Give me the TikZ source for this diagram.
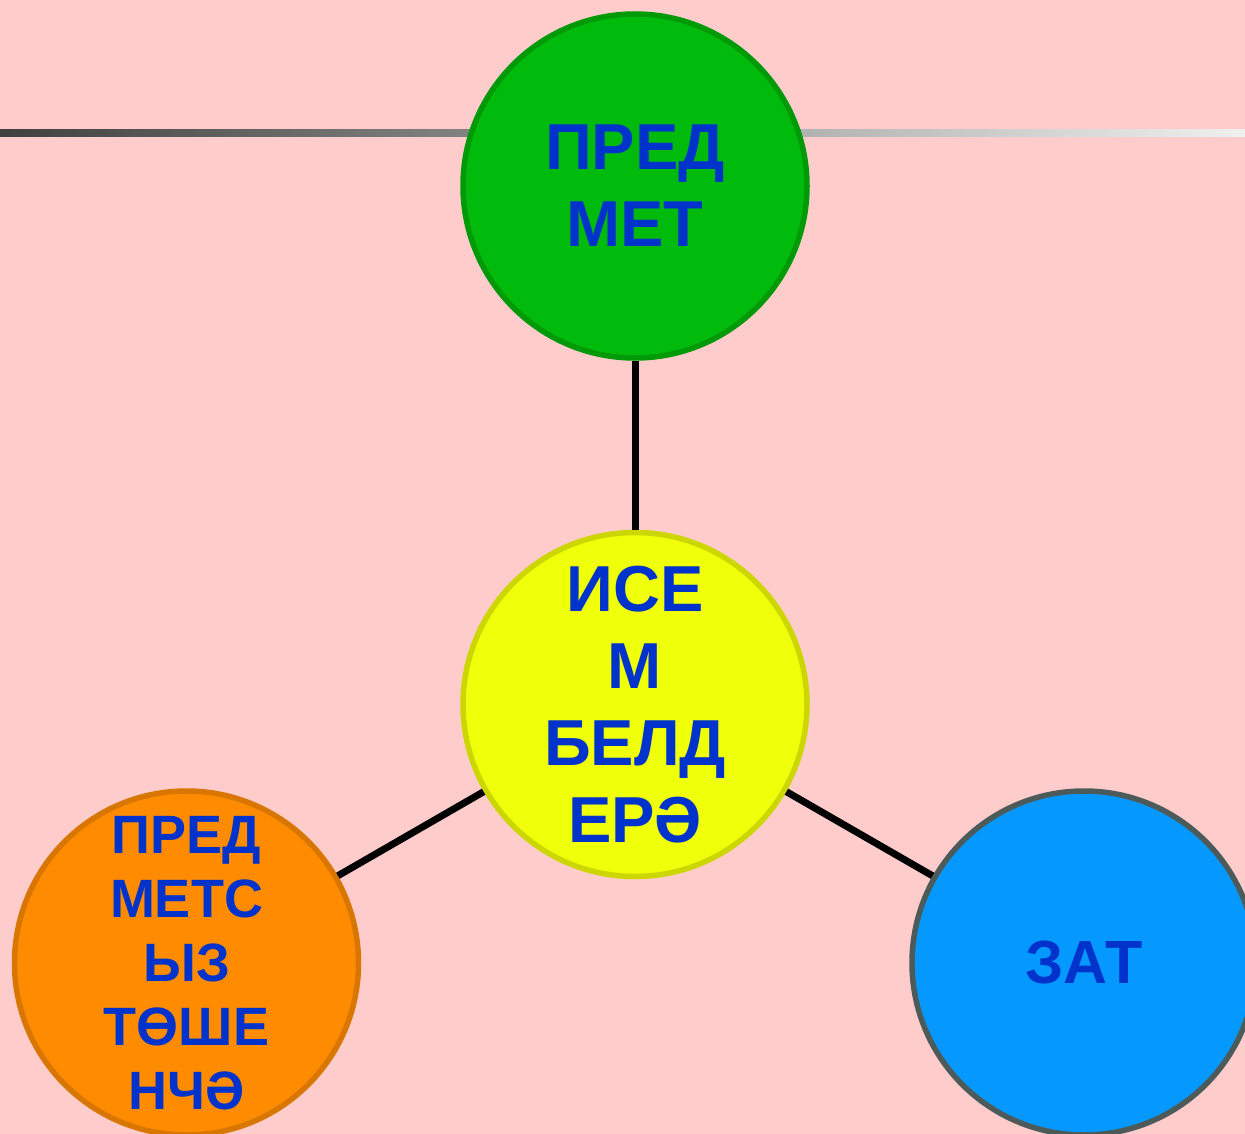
\documentclass[tikz,border=0pt]{standalone}
\usepackage{fontspec}
\setmainfont{Liberation Sans}
\definecolor{bg}{HTML}{FFCCCC}
\definecolor{txtblue}{HTML}{0033CC}
\definecolor{gfill}{HTML}{00BA0C}
\definecolor{gline}{HTML}{009A08}
\definecolor{yfill}{HTML}{F0FF0A}
\definecolor{yline}{HTML}{CCD600}
\definecolor{ofill}{HTML}{FF8C00}
\definecolor{oline}{HTML}{D87600}
\definecolor{bfill}{HTML}{0599FF}
\definecolor{bline}{HTML}{4D5A5A}
\definecolor{hdark}{HTML}{404040}
\definecolor{hlight}{HTML}{F0F0F0}
\tikzset{
  bubble/.style={circle, minimum size=344pt, inner sep=0pt, line width=5.5pt,
    text=txtblue, align=center},
  bigtext/.style={font=\fontsize{65}{77}\selectfont\bfseries},
  smalltext/.style={font=\fontsize{54}{64}\selectfont\bfseries},
  link/.style={line width=7pt, draw=black}
}
\begin{document}
\begin{tikzpicture}[x=1pt,y=-1pt]
\useasboundingbox (0,0) rectangle (1245,1134);
\clip (0,0) rectangle (1245,1134);
\fill[bg] (0,0) rectangle (1245,1134);
\coordinate (hl) at (0,133);
\coordinate (hr) at (1245,133);
\shade[left color=hdark, right color=hlight] ([yshift=3.3pt]hl) rectangle ([yshift=-3.3pt]hr);
\node[bubble, bigtext, fill=gfill, draw=gline] (pred) at (635,186) {ПРЕД\\МЕТ};
\node[bubble, bigtext, fill=yfill, draw=yline] (isem) at (635,704.5) {ИСЕ\\М\\БЕЛД\\ЕРӘ};
\node[bubble, smalltext, fill=ofill, draw=oline] (tosh) at (186.5,963) {ПРЕД\\МЕТС\\ЫЗ\\ТӨШЕ\\НЧӘ};
\node[bubble, font=\fontsize{61}{72}\selectfont\bfseries, fill=bfill, draw=bline] (zat) at (1084,963) {ЗАТ};
\draw[link] (pred) -- (isem);
\draw[link] (isem) -- (tosh);
\draw[link] (isem) -- (zat);
\end{tikzpicture}
\end{document}
